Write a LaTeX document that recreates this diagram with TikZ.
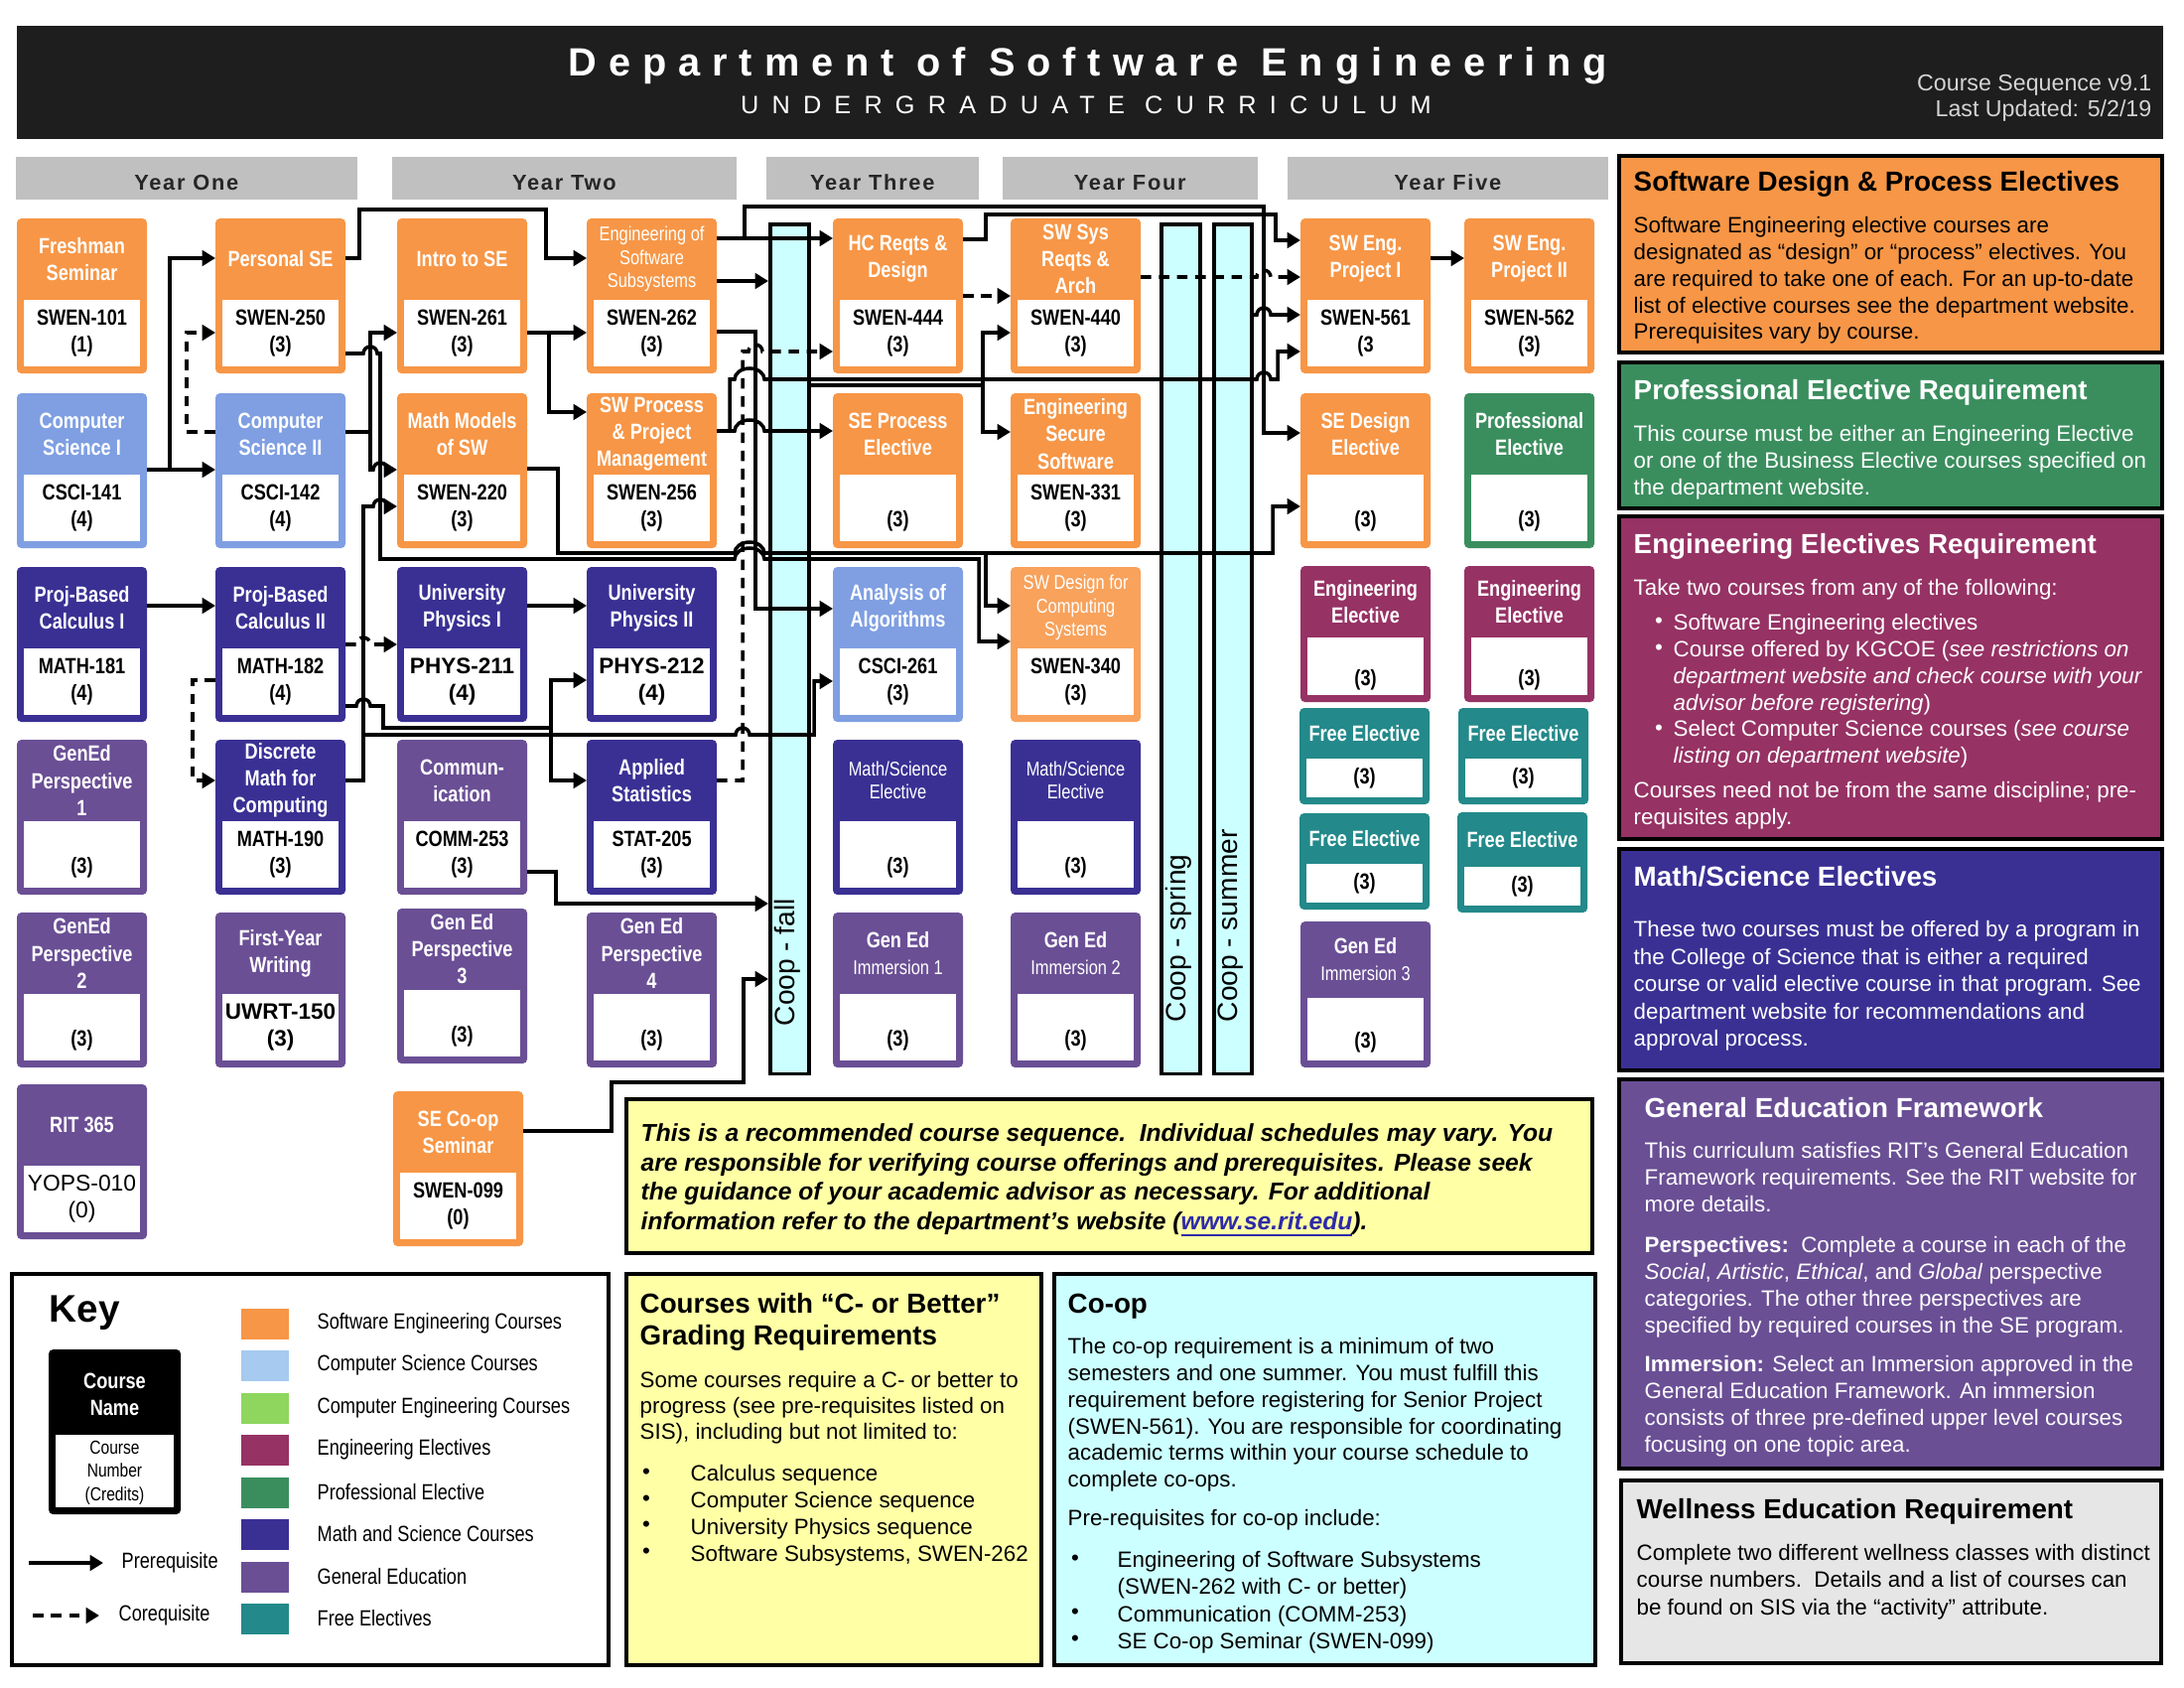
\documentclass[tikz,border=0pt]{standalone}
\usepackage{fontspec}
\setmainfont{Liberation Sans}
\newfontfamily\boxfont{Liberation Sans}[FakeStretch=0.82]
\newfontfamily\headfont{Liberation Sans}[LetterSpace=30]
\newfontfamily\subheadfont{Liberation Sans}[LetterSpace=52]
\newfontfamily\yearfont{Liberation Sans}[LetterSpace=8]
\usetikzlibrary{arrows.meta,calc}

\definecolor{seorange}{HTML}{F79646}
\definecolor{selight}{HTML}{F8A25C}
\definecolor{csblue}{HTML}{7F9FE2}
\definecolor{csswatch}{HTML}{A6CAF0}
\definecolor{ceswatch}{HTML}{8ED65E}
\definecolor{engelec}{HTML}{963264}
\definecolor{profgreen}{HTML}{3A8E5E}
\definecolor{mathsci}{HTML}{3A3094}
\definecolor{gened}{HTML}{6A4F95}
\definecolor{freeel}{HTML}{23898A}
\definecolor{yeargrey}{HTML}{C0C0C0}
\definecolor{coopcyan}{HTML}{CCFFFF}
\definecolor{noteyellow}{HTML}{FFFFA6}
\definecolor{wellgrey}{HTML}{E6E6E6}
\definecolor{headblack}{HTML}{1E1E1E}
\definecolor{headgrey}{HTML}{D4D4D4}
\definecolor{linkblue}{HTML}{2E2AA8}

% type styles
\newcommand\ttlfont{\boxfont\bfseries\fontsize{6.3}{7.7}\selectfont}
\newcommand\smallttl{\boxfont\fontsize{5.7}{6.7}\selectfont}
\newcommand\numfont{\boxfont\bfseries\fontsize{6.3}{7.8}\selectfont}
\newcommand\bignum{\normalfont\bfseries\fontsize{6.4}{7.8}\selectfont}
\newcommand\regnum{\normalfont\fontsize{6.5}{7.8}\selectfont}
\newcommand\immfont{\mdseries\fontsize{5.7}{6.9}\selectfont}
\newcommand\bodytext{\fontsize{6.35}{7.6}\selectfont}
\newcommand\ptitlefont{\bfseries\fontsize{7.9}{9.1}\selectfont}
\newcommand\keyfont{\boxfont\fontsize{6.3}{7.5}\selectfont}

\tikzset{
  cbox/.style={rounded corners=1.3pt, inner sep=0pt, outer sep=0pt, minimum width=13.1mm, anchor=north west},
  ttl/.style={text=white, align=center, inner sep=0pt},
  num/.style={text=black, align=center, inner sep=0pt, font=\numfont},
  bare/.style={line width=1pt},
  wire/.style={line width=1pt, -{Triangle[length=3.8pt,width=4.4pt]}},
  cowire/.style={wire, dash pattern=on 3pt off 2.2pt},
  hop/.style 2 args={insert path={-- ({#1-7},#2) arc[start angle=180,end angle=0,radius=0.07cm]}},
  whop/.style 2 args={insert path={-- ({#1-15},#2) arc[start angle=180,end angle=0,x radius=0.15cm,y radius=0.11cm]}},
  coop/.style={draw, line width=1pt, fill=coopcyan, inner sep=0pt, anchor=north west, minimum height=85.5mm},
  cooptext/.style={rotate=90, anchor=west, font=\fontsize{8}{9}\selectfont, inner sep=0pt},
  panel/.style={line width=1.3pt},
  ptitle/.style={anchor=north west, inner sep=0pt, font=\ptitlefont, align=left},
  pbody/.style={anchor=north west, inner sep=0pt, font=\bodytext, align=left},
  yearbar/.style={fill=yeargrey, inner sep=0pt, anchor=north west, minimum height=4.3mm},
  yeartext/.style={anchor=base, inner sep=0pt, font=\yearfont\bfseries\fontsize{6.2}{7}\selectfont, text=black!85},
  dot/.style={inner sep=0pt, font=\bodytext},
}

% course box: [title font]{name}{left}{top}{height}{header height}{colour}{title}{number and credits}
\newcommand\course[9][\ttlfont]{%
  \node[cbox, fill=#7, minimum height={#5*0.1mm}] (#2) at (#3,#4) {};
  \fill[white] ($(#2.north west)+(7,#6)$) rectangle ($(#2.south east)+(-7,-7)$);
  \node[ttl, font=#1] (#2-t) at ($(#2.north)+(0,{#6/2})$) {#8};
  \node[num] (#2-n) at ($(#2.north)+(0,{(#6+#5-7)/2})$) {#9};
}

\begin{document}
\begin{tikzpicture}[x=0.01cm, y=-0.01cm]
\useasboundingbox (0,0) rectangle (2200,1700);
\fill[white] (0,0) rectangle (2200,1700);

% ---------- header ----------
\fill[headblack] (17,26) rectangle (2179,140);
\node[anchor=base, text=white, inner sep=0pt, font=\headfont\bfseries\fontsize{11.3}{12}\selectfont] (title) at (1096,77) {Department of Software Engineering};
\node[anchor=base, text=white, inner sep=0pt, font=\subheadfont\fontsize{7.2}{8}\selectfont] (subtitle) at (1094,115) {UNDERGRADUATE CURRICULUM};
\node[anchor=base east, text=headgrey, inner sep=0pt, font=\fontsize{6.6}{8}\selectfont] (version) at (2168,92) {Course Sequence v9.1};
\node[anchor=base east, text=headgrey, inner sep=0pt, font=\fontsize{6.6}{8}\selectfont] (updated) at (2168,118) {Last Updated: 5/2/19};

% ---------- year bars ----------
\node[yearbar, minimum width=34.4mm] (yr1) at (15,157) {};
\node[yearbar, minimum width=34.7mm] (yr2) at (394,157) {};
\node[yearbar, minimum width=21.4mm] (yr3) at (771,157) {};
\node[yearbar, minimum width=25.7mm] (yr4) at (1009,157) {};
\node[yearbar, minimum width=32.3mm] (yr5) at (1296,157) {};
\node[yeartext] (yr1-t) at ($(yr1.north)+(0,35)$) {Year One};
\node[yeartext] (yr2-t) at ($(yr2.north)+(0,35)$) {Year Two};
\node[yeartext] (yr3-t) at ($(yr3.north)+(0,35)$) {Year Three};
\node[yeartext] (yr4-t) at ($(yr4.north)+(0,35)$) {Year Four};
\node[yeartext] (yr5-t) at ($(yr5.north)+(0,35)$) {Year Five};

% ---------- co-op columns ----------
\node[coop, minimum width=3.9mm] (coopfall) at (774,224) {};
\node[coop, minimum width=3.9mm] (coopspring) at (1168,224) {};
\node[coop, minimum width=3.8mm] (coopsummer) at (1221,224) {};
\node[cooptext] (coopfall-l) at (793.5,1034) {Coop - fall};
\node[cooptext] (coopspring-l) at (1187.5,1030) {Coop - spring};
\node[cooptext] (coopsummer-l) at (1240,1030) {Coop - summer};

% ---------- courses ----------
% row 1
\course{fresh}{17}{220}{156}{82}{seorange}{Freshman\\Seminar}{SWEN-101\\(1)}
\course{p250}{217}{220}{156}{82}{seorange}{Personal SE}{SWEN-250\\(3)}
\course{i261}{400}{220}{156}{82}{seorange}{Intro to SE}{SWEN-261\\(3)}
\course[\smallttl]{e262}{591}{220}{156}{82}{seorange}{Engineering of\\Software\\Subsystems}{SWEN-262\\(3)}
\course{hc444}{839}{220}{156}{82}{seorange}{HC Reqts \&\\Design}{SWEN-444\\(3)}
\course{sr440}{1018}{220}{156}{82}{seorange}{SW Sys\\Reqts \&\\Arch}{SWEN-440\\(3)}
\course{sp561}{1310}{220}{156}{82}{seorange}{SW Eng.\\Project I}{SWEN-561\\(3}
\course{sp562}{1475}{220}{156}{82}{seorange}{SW Eng.\\Project II}{SWEN-562\\(3)}
% row 2
\course{cs141}{17}{396}{156}{82}{csblue}{Computer\\Science I}{CSCI-141\\(4)}
\course{cs142}{217}{396}{156}{82}{csblue}{Computer\\Science II}{CSCI-142\\(4)}
\course{mm220}{400}{396}{156}{82}{seorange}{Math Models\\of SW}{SWEN-220\\(3)}
\course{pm256}{591}{396}{156}{82}{seorange}{SW Process\\\& Project\\Management}{SWEN-256\\(3)}
\course{sepe}{839}{396}{156}{82}{seorange}{SE Process\\Elective}{\vphantom{S}\\(3)}
\course{ess331}{1018}{396}{156}{82}{seorange}{Engineering\\Secure\\Software}{SWEN-331\\(3)}
\course{sede}{1310}{396}{156}{82}{seorange}{SE Design\\Elective}{\vphantom{S}\\(3)}
\course{profel}{1475}{396}{156}{82}{profgreen}{Professional\\Elective}{\vphantom{S}\\(3)}
% row 3
\course{m181}{17}{571}{156}{82}{mathsci}{Proj-Based\\Calculus I}{MATH-181\\(4)}
\course{m182}{217}{571}{156}{82}{mathsci}{Proj-Based\\Calculus II}{MATH-182\\(4)}
\course{p211}{400}{571}{156}{82}{mathsci}{University\\Physics I}{{\bignum PHYS-211}\\{\bignum (4)}}
\course{p212}{591}{571}{156}{82}{mathsci}{University\\Physics II}{{\bignum PHYS-212}\\{\bignum (4)}}
\course{cs261}{839}{571}{156}{82}{csblue}{Analysis of\\Algorithms}{CSCI-261\\(3)}
\course[\smallttl]{sw340}{1018}{571}{156}{82}{selight}{SW Design for\\Computing\\Systems}{SWEN-340\\(3)}
\course{ee1}{1310}{570}{137}{72}{engelec}{Engineering\\Elective}{\vphantom{S}\\(3)}
\course{ee2}{1475}{570}{137}{72}{engelec}{Engineering\\Elective}{\vphantom{S}\\(3)}
% row 4
\course{ge1}{17}{745}{156}{82}{gened}{GenEd\\Perspective\\1}{\vphantom{S}\\(3)}
\course{m190}{217}{745}{156}{82}{mathsci}{Discrete\\Math for\\Computing}{MATH-190\\(3)}
\course{comm}{400}{745}{156}{82}{gened}{Commun-\\ication}{COMM-253\\(3)}
\course{stat}{591}{745}{156}{82}{mathsci}{Applied\\Statistics}{STAT-205\\(3)}
\course[\smallttl]{ms1}{839}{745}{156}{82}{mathsci}{Math/Science\\Elective}{\vphantom{S}\\(3)}
\course[\smallttl]{ms2}{1018}{745}{156}{82}{mathsci}{Math/Science\\Elective}{\vphantom{S}\\(3)}
\course{fe1}{1309}{713}{97}{51}{freeel}{Free Elective}{(3)}
\course{fe2}{1469}{713}{97}{51}{freeel}{Free Elective}{(3)}
\course{fe3}{1309}{819}{97}{51}{freeel}{Free Elective}{(3)}
\course{fe4}{1468}{818}{101}{55}{freeel}{Free Elective}{(3)}
% row 5
\course{ge2}{17}{919}{156}{82}{gened}{GenEd\\Perspective\\2}{\vphantom{S}\\(3)}
\course{uwrt}{217}{919}{156}{82}{gened}{First-Year\\Writing}{{\bignum UWRT-150}\\{\bignum (3)}}
\course{ge3}{400}{915}{156}{82}{gened}{Gen Ed\\Perspective\\3}{\vphantom{S}\\(3)}
\course{ge4}{591}{919}{156}{82}{gened}{Gen Ed\\Perspective\\4}{\vphantom{S}\\(3)}
\course{imm1}{839}{919}{156}{82}{gened}{Gen Ed\\{\immfont Immersion 1}}{\vphantom{S}\\(3)}
\course{imm2}{1018}{919}{156}{82}{gened}{Gen Ed\\{\immfont Immersion 2}}{\vphantom{S}\\(3)}
\course{imm3}{1310}{928}{147}{77}{gened}{Gen Ed\\{\immfont Immersion 3}}{\vphantom{S}\\(3)}
% row 6
\course{rit365}{17}{1092}{156}{82}{gened}{RIT 365}{{\regnum YOPS-010}\\{\regnum (0)}}
\course{s099}{396}{1099}{156}{82}{seorange}{SE Co-op\\Seminar}{SWEN-099\\(0)}

% ---------- prerequisite connectors ----------
\coordinate (j141) at (171,473);
\draw[wire] (cs141.east|-j141) -- (cs142.west|-j141);
\draw[wire] (j141) |- (p250.west|-0,260);
\draw[cowire] (cs142.west|-0,435) -| (188,335) -- (p250.west|-0,335);
\draw[wire] (p250.east|-0,260) -| (362,211) -| (550,260) -- (e262.west|-0,260);
\draw[wire] (p250.east|-0,356) [hop={373}{356}] -| (383,563) [whop={755}{563}] -| (986,646) -- (sw340.west|-0,646);

\coordinate (j142) at (373,435);
\draw[bare] (cs142.east|-j142) -- (j142);
\draw[wire] (j142) |- (i261.west|-0,335);
\draw[wire] (j142) -- (373,473) [hop={383}{473}] -- (mm220.west|-0,473);

\coordinate (j190) at (366,740);
\draw[wire] (m190.east|-0,786) -| (366,510) [hop={383}{510}] -- (mm220.west|-0,510);
\draw[wire] (j190) [hop={748}{740}] -| (820,686) -- (cs261.west|-0,686);

\draw[wire] (m181.east|-0,610) -- (m182.west|-0,610);
\draw[cowire] (m182.east|-0,649) [hop={366}{649}] -- (p211.west|-0,649);
\draw[cowire] (m182.west|-0,685) -| (194,786) -- (m190.west|-0,786);

\coordinate (j182) at (555,733);
\draw[bare] (m182.east|-0,711) [hop={366}{711}] -| (386,733) -- (j182);
\draw[wire] (j182) |- (p212.west|-0,685);
\draw[wire] (j182) |- (stat.west|-0,786);
\draw[wire] (p211.east|-0,610) -- (p212.west|-0,610);

\coordinate (j261) at (553,335);
\draw[wire] (i261.east|-j261) -- (e262.west|-j261);
\draw[wire] (j261) |- (pm256.west|-0,415);

\coordinate (j220) at (993,557);
\draw[wire] (mm220.east|-0,472) -| (562,557) [whop={755}{557}] -| (1282,510) -- (sede.west|-0,510);
\draw[wire] (j220) |- (sw340.west|-0,610);

\coordinate (j262) at (750,240);
\draw[wire] (e262.east|-j262) -- (hc444.west|-j262);
\draw[wire] (j262) |- (1273,208) |- (sede.west|-0,436);
\draw[wire] (e262.east|-0,283) -- (coopfall.west|-0,283);
\draw[wire] (e262.east|-0,334) -| (761,613) -- (cs261.west|-0,613);

\draw[cowire] (stat.east|-0,786) -| (748,354) [hop={761}{354}] -- (hc444.west|-0,354);

\coordinate (j256) at (735,434);
\draw[wire] (pm256.east|-j256) [whop={755}{434}] -- (sepe.west|-j256);
\draw[wire] (j256) -- (735,382) [whop={755}{382}] [hop={1273}{382}] -| (1287,354) -- (sp561.west|-0,354);

\coordinate (jcf) at (990,388);
\draw[bare] (coopfall.east|-jcf) -- (jcf);
\draw[wire] (jcf) |- (sr440.west|-0,335);
\draw[wire] (jcf) |- (ess331.west|-0,435);

\draw[cowire] (hc444.east|-0,298) -- (sr440.west|-0,298);
\draw[wire] (hc444.east|-0,241) -| (993,216) -| (1285,242) -- (sp561.west|-0,242);
\draw[cowire] (sr440.east|-0,279) [hop={1273}{279}] -- (sp561.west|-0,279);
\draw[wire] (coopsummer.east|-0,317) [hop={1273}{317}] -- (sp561.west|-0,317);
\draw[wire] (sp561.east|-0,260) -- (sp562.west|-0,260);

\draw[wire] (comm.east|-0,878) -| (560,910) -- (coopfall.west|-0,910);
\draw[wire] (s099.east|-0,1139) -| (616,1090) -| (749,986) -- (coopfall.west|-0,986);

% ---------- side panels ----------
\draw[panel, fill=seorange] (1631,157) rectangle (2178,355);
\node[ptitle] (sdp-t) at (1645,172) {Software Design \& Process Electives};
\node[pbody] (sdp-b) at (1645,218) {Software Engineering elective courses are\\designated as “design” or “process” electives. You\\are required to take one of each. For an up-to-date\\list of elective courses see the department website.\\Prerequisites vary by course.};

\draw[panel, fill=profgreen] (1631,365) rectangle (2178,512);
\node[ptitle, text=white] (per-t) at (1645,382) {Professional Elective Requirement};
\node[pbody, text=white] (per-b) at (1645,428) {This course must be either an Engineering Elective\\or one of the Business Elective courses specified on\\the department website.};

\draw[panel, fill=engelec] (1631,520) rectangle (2178,845);
\node[ptitle, text=white] (eer-t) at (1645,537) {Engineering Electives Requirement};
\node[pbody, text=white] (eer-a) at (1645,583) {Take two courses from any of the following:};
\node[pbody, text=white] (eer-b) at (1685,618) {Software Engineering electives\\Course offered by KGCOE (\textit{see restrictions on}\\\textit{department website and check course with your}\\\textit{advisor before registering})\\Select Computer Science courses (\textit{see course}\\\textit{listing on department website})};
\node[dot, text=white] (eer-d1) at (1671,627) {•};
\node[dot, text=white] (eer-d2) at (1671,654) {•};
\node[dot, text=white] (eer-d3) at (1671,735) {•};
\node[pbody, text=white] (eer-c) at (1645,787) {Courses need not be from the same discipline; pre-\\requisites apply.};

\draw[panel, fill=mathsci] (1631,855) rectangle (2178,1078);
\node[ptitle, text=white] (mse-t) at (1645,872) {Math/Science Electives};
\node[pbody, text=white, font=\fontsize{6.35}{7.8}\selectfont] (mse-b) at (1645,927) {These two courses must be offered by a program in\\the College of Science that is either a required\\course or valid elective course in that program. See\\department website for recommendations and\\approval process.};

\draw[panel, fill=gened] (1631,1087) rectangle (2178,1479);
\node[ptitle, text=white] (gef-t) at (1656,1105) {General Education Framework};
\node[pbody, text=white] (gef-a) at (1656,1150) {This curriculum satisfies RIT’s General Education\\Framework requirements. See the RIT website for\\more details.};
\node[pbody, text=white] (gef-b) at (1656,1245) {\textbf{Perspectives:}\ \ Complete a course in each of the\\\textit{Social}, \textit{Artistic}, \textit{Ethical}, and \textit{Global} perspective\\categories. The other three perspectives are\\specified by required courses in the SE program.};
\node[pbody, text=white] (gef-c) at (1656,1365) {\textbf{Immersion:} Select an Immersion approved in the\\General Education Framework. An immersion\\consists of three pre-defined upper level courses\\focusing on one topic area.};

\draw[panel, fill=wellgrey] (1633,1491) rectangle (2177,1675);
\node[ptitle] (wel-t) at (1648,1509) {Wellness Education Requirement};
\node[pbody, font=\fontsize{6.35}{7.7}\selectfont] (wel-b) at (1648,1555) {Complete two different wellness classes with distinct\\course numbers.\ \ Details and a list of courses can\\be found on SIS via the “activity” attribute.};

% ---------- notes ----------
\draw[panel, fill=noteyellow] (631,1107) rectangle (1604,1262);
\node[pbody, font=\bfseries\itshape\fontsize{7}{8.45}\selectfont] (note) at (645,1131) {This is a recommended course sequence.\ \ Individual schedules may vary. You\\are responsible for verifying course offerings and prerequisites. Please seek\\the guidance of your academic advisor as necessary. For additional\\information refer to the department’s website (\textcolor{linkblue}{\underline{www.se.rit.edu}}).};

\draw[panel, fill=noteyellow] (631,1283) rectangle (1049,1677);
\node[ptitle] (cmb-t) at (644,1302) {Courses with “C- or Better”\\Grading Requirements};
\node[pbody, font=\fontsize{6.35}{7.4}\selectfont] (cmb-a) at (644,1381) {Some courses require a C- or better to\\progress (see pre-requisites listed on\\SIS), including but not limited to:};
\node[pbody] (cmb-b) at (695,1475) {Calculus sequence\\Computer Science sequence\\University Physics sequence\\Software Subsystems, SWEN-262};
\node[dot] (cmb-d1) at (651,1484) {•};
\node[dot] (cmb-d2) at (651,1511) {•};
\node[dot] (cmb-d3) at (651,1537) {•};
\node[dot] (cmb-d4) at (651,1564) {•};

\draw[panel, fill=coopcyan] (1062,1283) rectangle (1607,1677);
\node[ptitle] (cop-t) at (1075,1302) {Co-op};
\node[pbody] (cop-a) at (1075,1347) {The co-op requirement is a minimum of two\\semesters and one summer. You must fulfill this\\requirement before registering for Senior Project\\(SWEN-561). You are responsible for coordinating\\academic terms within your course schedule to\\complete co-ops.};
\node[pbody] (cop-b) at (1075,1520) {Pre-requisites for co-op include:};
\node[pbody, font=\fontsize{6.35}{7.7}\selectfont] (cop-c) at (1125,1562) {Engineering of Software Subsystems\\(SWEN-262 with C- or better)\\Communication (COMM-253)\\SE Co-op Seminar (SWEN-099)};
\node[dot] (cop-d1) at (1083,1571) {•};
\node[dot] (cop-d2) at (1083,1625) {•};
\node[dot] (cop-d3) at (1083,1652) {•};

% ---------- key ----------
\draw[panel] (12,1283) rectangle (613,1677);
\node[anchor=north west, inner sep=0pt, font=\bfseries\fontsize{11}{12}\selectfont] (key-t) at (49,1304) {Key};
\node[cbox, fill=black, minimum width=13.3mm, minimum height=16.6mm] (keybox) at (49,1359) {};
\fill[white] (56,1445) rectangle (175,1518);
\node[ttl, font=\ttlfont] (keybox-t) at (115.5,1404) {Course\\Name};
\node[num, font=\boxfont\fontsize{5.4}{6.7}\selectfont] (keybox-n) at (115.5,1483) {Course\\Number\\(Credits)};
\coordinate (kp1) at (29,1574);
\coordinate (kp2) at (104,1574);
\draw[wire] (kp1) -- (kp2);
\node[anchor=west, inner sep=0pt, font=\keyfont] (kp-l) at (122,1574) {Prerequisite};
\coordinate (kc1) at (33,1627);
\coordinate (kc2) at (100,1627);
\draw[cowire] (kc1) -- (kc2);
\node[anchor=west, inner sep=0pt, font=\keyfont] (kc-l) at (119,1627) {Corequisite};
\foreach \c/\t [count=\i from 0] in {seorange/Software Engineering Courses, csswatch/Computer Science Courses, ceswatch/Computer Engineering Courses, engelec/Engineering Electives, profgreen/Professional Elective, mathsci/Math and Science Courses, gened/General Education, freeel/Free Electives}{
  \node[fill=\c, inner sep=0pt, anchor=north west, minimum width=4.8mm, minimum height=3.1mm] (sw\i) at (242,{1317+42.5*\i}) {};
  \node[anchor=west, inner sep=0pt, font=\keyfont] (swl\i) at (319,{1332.5+42.5*\i}) {\t};
}
\end{tikzpicture}
\end{document}
